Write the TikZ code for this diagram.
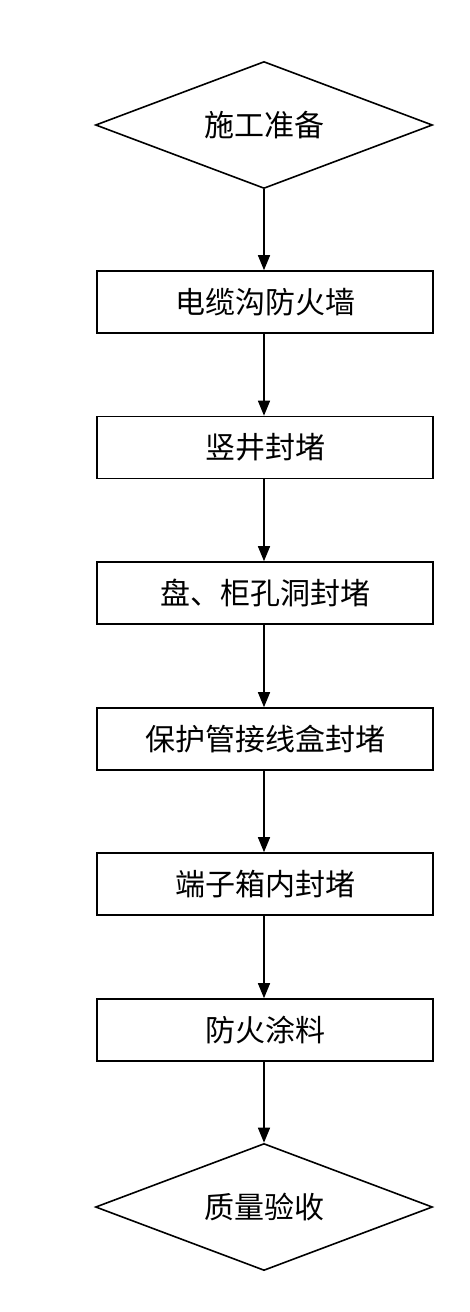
\documentclass[tikz,border=0pt]{standalone}
\usepackage{fontspec}
\newfontfamily\cjk{Noto Sans CJK SC}
\usetikzlibrary{shapes.geometric,arrows.meta}
\begin{document}
\begin{tikzpicture}[x=1pt,y=-1pt,
  txt/.style={font=\cjk\fontsize{30}{30}\selectfont},
  stepbox/.style={txt,draw=black,line width=1.6pt,minimum width=336pt,minimum height=62pt,inner sep=0pt},
  decbox/.style={txt,draw=black,line width=1.6pt,diamond,aspect=2.67,minimum width=337pt,minimum height=127pt,inner sep=0pt},
  flow/.style={line width=1.4pt,-{Triangle[length=15pt,width=12pt]}}]
\useasboundingbox[fill=white] (0,0) rectangle (470,1312);
\node[decbox] (start) at (264,125) {施工准备};
\node[stepbox] (s1) at (265,302) {电缆沟防火墙};
\node[stepbox] (s2) at (265,447.5) {竖井封堵};
\node[stepbox] (s3) at (265,593) {盘、柜孔洞封堵};
\node[stepbox] (s4) at (265,739) {保护管接线盒封堵};
\node[stepbox] (s5) at (265,884) {端子箱内封堵};
\node[stepbox] (s6) at (265,1030) {防火涂料};
\node[decbox] (end) at (264,1207) {质量验收};
\draw[flow] (start.south) -- (s1.north -| start.south);
\draw[flow] (s1.south -| start.south) -- (s2.north -| start.south);
\draw[flow] (s2.south -| start.south) -- (s3.north -| start.south);
\draw[flow] (s3.south -| start.south) -- (s4.north -| start.south);
\draw[flow] (s4.south -| start.south) -- (s5.north -| start.south);
\draw[flow] (s5.south -| start.south) -- (s6.north -| start.south);
\draw[flow] (s6.south -| start.south) -- (end.north);
\end{tikzpicture}
\end{document}
